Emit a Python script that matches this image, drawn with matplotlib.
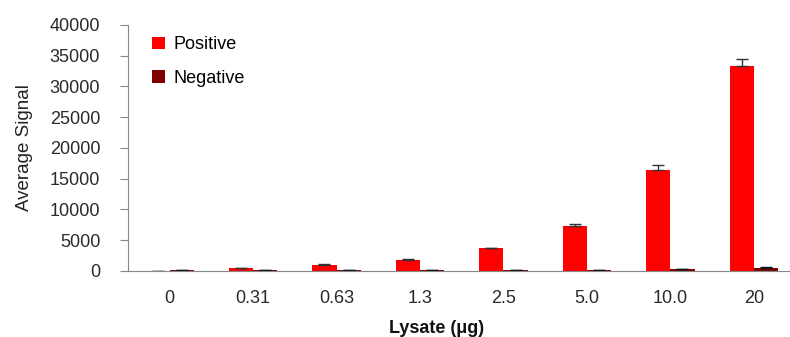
import matplotlib.pyplot as plt
import numpy as np

categories = ['0', '0.31', '0.63', '1.3', '2.5', '5.0', '10.0', '20']
positive = [50, 490, 980, 1840, 3690, 7320, 16370, 33330]
positive_err = [20, 70, 80, 110, 120, 280, 920, 1080]
negative = [150, 150, 150, 150, 150, 150, 300, 550]
negative_err = [20, 20, 20, 20, 20, 20, 40, 150]

plt.rcParams['font.family'] = ['Liberation Sans', 'DejaVu Sans']

fig = plt.figure(figsize=(7.9, 3.37), dpi=100)
ax = fig.add_axes([0.162, 0.196, 0.845, 0.73])

x = np.arange(len(categories))
w = 0.29
ax.bar(x - w / 2, positive, w, color='#ff0000', label='Positive',
       yerr=[np.zeros(len(x)), positive_err], error_kw=dict(ecolor='#333333', elinewidth=1, capsize=4))
ax.bar(x + w / 2, negative, w, color='#800000', label='Negative',
       yerr=[np.zeros(len(x)), negative_err], error_kw=dict(ecolor='#111111', elinewidth=1, capsize=4))

ax.set_xlim(-0.5, len(categories) - 0.5)
ax.set_ylim(0, 40000)
ax.set_yticks(range(0, 40001, 5000))
ax.set_xticks(x)
ax.set_xticklabels(categories)
ax.tick_params(axis='x', length=0, pad=14, labelsize=13, labelcolor='#2a2a2a')
ax.tick_params(axis='y', length=6, color='#888888', labelsize=13, labelcolor='#2a2a2a', pad=14)

for s in ['top', 'right']:
    ax.spines[s].set_visible(False)
for s in ['left', 'bottom']:
    ax.spines[s].set_color('#888888')

ax.set_ylabel('Average Signal', fontsize=13.5, color='#222222', labelpad=12)
ax.set_xlabel('Lysate (μg)', fontsize=13, fontweight='bold', color='#111111', labelpad=10)
ax.xaxis.set_label_coords(0.463, -0.2)

ax.legend(loc='upper left', bbox_to_anchor=(0.012, 1.02), frameon=False, fontsize=13,
          handlelength=0.7, handleheight=0.7, handletextpad=0.5, labelspacing=0.9,
          borderaxespad=0.5)

fig.savefig('out.png', dpi=100)
